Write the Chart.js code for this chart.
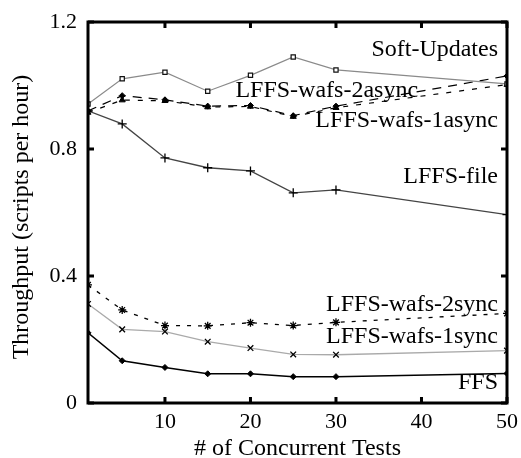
<!DOCTYPE html>
<html>
<head>
<meta charset="utf-8">
<script src="https://cdn.jsdelivr.net/npm/chart.js@4"></script>
<style>
  html, body { margin: 0; padding: 0; background: #fff; overflow: hidden; }
  #wrap { width: 521px; height: 458px; }
</style>
</head>
<body>
<div id="wrap"><canvas id="myChart"></canvas></div>
<script>
// 同時測試數 vs 吞吐量
const tests = [1, 5, 10, 15, 20, 25, 30, 50];
const softUpdates = [0.942, 1.021, 1.042, 0.982, 1.032, 1.090, 1.049, 1.005];
const wafs2async = [0.920, 0.968, 0.955, 0.935, 0.937, 0.905, 0.935, 1.030];
const wafs1async = [0.915, 0.954, 0.952, 0.932, 0.934, 0.902, 0.930, 1.003];
const lffsFile = [0.920, 0.879, 0.772, 0.741, 0.731, 0.662, 0.671, 0.593];
const wafs2sync = [0.372, 0.293, 0.244, 0.243, 0.253, 0.244, 0.254, 0.282];
const wafs1sync = [0.312, 0.232, 0.225, 0.193, 0.173, 0.153, 0.152, 0.165];
const ffs = [0.221, 0.133, 0.112, 0.092, 0.092, 0.083, 0.083, 0.093];
const xTicks = [10, 20, 30, 40, 50];
const yTicks = [0, 0.4, 0.8, 1.2];

const serif = '"Liberation Serif", "Times New Roman", Times, serif';

function pts(ys) {
    return tests.map(function (x, i) { return { x: x, y: ys[i] }; });
}

// 線上文字 (gnuplot key)
const keyLabels = [
    { text: 'Soft-Updates', x: 48.95, y: 1.112 },
    { text: 'LFFS-wafs-2async', x: 39.6, y: 0.983 },
    { text: 'LFFS-wafs-1async', x: 48.95, y: 0.888 },
    { text: 'LFFS-file', x: 48.95, y: 0.712 },
    { text: 'LFFS-wafs-2sync', x: 48.95, y: 0.309 },
    { text: 'LFFS-wafs-1sync', x: 48.95, y: 0.208 },
    { text: 'FFS', x: 48.95, y: 0.063 }
];

const framePlugin = {
    id: 'frame',
    afterDatasetsDraw(chart) {
        const ctx = chart.ctx;
        const a = chart.chartArea;
        const xs = chart.scales.x, ys = chart.scales.y;
        ctx.save();
        ctx.strokeStyle = '#000';
        ctx.lineWidth = 3;
        ctx.strokeRect(a.left, a.top, a.right - a.left, a.bottom - a.top);
        ctx.beginPath();
        xTicks.forEach(function (v) {
            const px = xs.getPixelForValue(v);
            ctx.moveTo(px, a.bottom); ctx.lineTo(px, a.bottom - 6);
            ctx.moveTo(px, a.top); ctx.lineTo(px, a.top + 6);
        });
        yTicks.forEach(function (v) {
            const py = ys.getPixelForValue(v);
            ctx.moveTo(a.left, py); ctx.lineTo(a.left + 6, py);
            ctx.moveTo(a.right, py); ctx.lineTo(a.right - 6, py);
        });
        ctx.stroke();
        ctx.fillStyle = '#000';
        ctx.font = '24px ' + serif;
        ctx.textAlign = 'right';
        ctx.textBaseline = 'middle';
        keyLabels.forEach(function (k) {
            ctx.fillText(k.text, xs.getPixelForValue(k.x), ys.getPixelForValue(k.y));
        });
        // 縦軸タイトル
        ctx.translate(22, 217);
        ctx.rotate(-Math.PI / 2);
        ctx.textAlign = 'center';
        ctx.fillText('Throughput (scripts per hour)', 0, 0);
        ctx.restore();
    }
};

const ctx1 = document.getElementById('myChart');
const myChart = new Chart(ctx1, {
    type: 'line',
    data: {
        datasets: [{
            label: 'Soft-Updates',
            data: pts(softUpdates),
            borderColor: '#8a8a8a',
            borderWidth: 1.2,
            pointStyle: 'rect',
            pointRadius: 3,
            pointBorderColor: '#111',
            pointBackgroundColor: '#fff',
            pointBorderWidth: 1.2
        }, {
            label: 'LFFS-wafs-2async',
            data: pts(wafs2async),
            borderColor: '#000',
            borderWidth: 1.2,
            borderDash: [9, 7],
            pointStyle: 'rectRot',
            pointRadius: 3,
            pointBorderColor: '#000',
            pointBackgroundColor: '#000',
            pointBorderWidth: 1
        }, {
            label: 'LFFS-wafs-1async',
            data: pts(wafs1async),
            borderColor: '#000',
            borderWidth: 1.2,
            borderDash: [5, 8],
            pointStyle: 'triangle',
            pointRadius: 3.5,
            pointBorderColor: '#000',
            pointBackgroundColor: '#000',
            pointBorderWidth: 1
        }, {
            label: 'LFFS-file',
            data: pts(lffsFile),
            borderColor: '#444',
            borderWidth: 1.3,
            pointStyle: 'cross',
            pointRadius: 4.5,
            pointBorderColor: '#000',
            pointBorderWidth: 1.3
        }, {
            label: 'LFFS-wafs-2sync',
            data: pts(wafs2sync),
            borderColor: '#000',
            borderWidth: 1.3,
            borderDash: [4, 7],
            pointStyle: 'star',
            pointRadius: 4,
            pointBorderColor: '#000',
            pointBorderWidth: 1.3
        }, {
            label: 'LFFS-wafs-1sync',
            data: pts(wafs1sync),
            borderColor: '#aaa',
            borderWidth: 1.3,
            pointStyle: 'crossRot',
            pointRadius: 4,
            pointBorderColor: '#000',
            pointBorderWidth: 1.3
        }, {
            label: 'FFS',
            data: pts(ffs),
            borderColor: '#000',
            borderWidth: 1.5,
            pointStyle: 'rectRot',
            pointRadius: 3,
            pointBorderColor: '#000',
            pointBackgroundColor: '#000',
            pointBorderWidth: 1
        }]
    },
    options: {
        responsive: true,
        maintainAspectRatio: false,
        animation: false,
        layout: { padding: { left: 0, right: 14, top: 22, bottom: 0 } },
        plugins: { legend: { display: false }, tooltip: { enabled: false } },
        scales: {
            x: {
                type: 'linear',
                min: 1,
                max: 50,
                afterBuildTicks: function (s) { s.ticks = xTicks.map(function (v) { return { value: v }; }); },
                afterFit: function (s) { s.height = 55; s.paddingLeft = 0; s.paddingRight = 0; },
                grid: { display: false, drawTicks: false },
                border: { display: false },
                ticks: { color: '#000', font: { family: serif, size: 22 }, padding: 6, maxRotation: 0 },
                title: { display: true, text: '# of Concurrent Tests', color: '#000', font: { family: serif, size: 24, lineHeight: 1.0 }, padding: { top: 0, bottom: -3 } }
            },
            y: {
                min: 0,
                max: 1.2,
                afterBuildTicks: function (s) { s.ticks = yTicks.map(function (v) { return { value: v }; }); },
                afterFit: function (s) { s.width = 88; s.paddingTop = 0; s.paddingBottom = 0; },
                grid: { display: false, drawTicks: false },
                border: { display: false },
                ticks: {
                    color: '#000', font: { family: serif, size: 22 }, padding: 11,
                    callback: function (v) { return v === 0 ? '0' : v.toFixed(1); }
                }
            }
        }
    },
    plugins: [framePlugin]
});
</script>
</body>
</html>
